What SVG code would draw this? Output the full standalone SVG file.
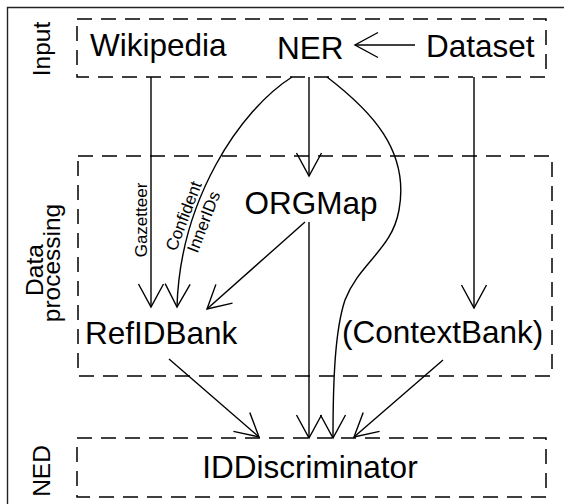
<svg xmlns="http://www.w3.org/2000/svg" width="564" height="504" viewBox="0 0 564 504">
<style>
text{font-family:"Liberation Sans",Arial,sans-serif;fill:#000}
.big{font-size:31.5px}
.sec{font-size:24.5px}
.lab{font-size:17px}
.box{fill:none;stroke:#000;stroke-width:1.5;stroke-dasharray:15 9}
.c{fill:none;stroke:#000;stroke-width:1.4}
</style>
<defs>
<marker id="v" markerUnits="userSpaceOnUse" markerWidth="40" markerHeight="40" viewBox="-30 -20 40 40" refX="0" refY="0" orient="auto">
<path d="M-23,-12.5 L0,0 L-23,12.5" fill="none" stroke="#000" stroke-width="1.4"/>
</marker>
</defs>
<rect x="0" y="0" width="564" height="504" fill="#fff"/>
<path d="M7.5,504 V7.5 H564" fill="none" stroke="#222" stroke-width="1.4"/>
<g id="sections">
<rect id="input-box" class="box" x="77" y="19" width="469" height="58"/>
<rect id="dp-box" class="box" x="78" y="156" width="474" height="220"/>
<rect id="ned-box" class="box" x="77" y="438" width="469" height="59"/>
<text class="sec" transform="translate(50,49) rotate(-90)" text-anchor="middle">Input</text>
<text class="sec" transform="translate(43,270) rotate(-90)" text-anchor="middle">Data</text>
<text class="sec" transform="translate(60,263) rotate(-90)" text-anchor="middle">processing</text>
<text class="sec" transform="translate(50,471) rotate(-90)" text-anchor="middle">NED</text>
</g>
<g id="connectors">
<path class="c" d="M415,45 H355" stroke-width="1" marker-end="url(#v)"/>
<path class="c" d="M151,77 V307" marker-end="url(#v)"/>
<path class="c" d="M292,77 C240,110 180,200 177,307" marker-end="url(#v)"/>
<path class="c" d="M309,77 V176" marker-end="url(#v)"/>
<path class="c" d="M305,222 L207,309" marker-end="url(#v)"/>
<path class="c" d="M309,222 V438" marker-end="url(#v)"/>
<path class="c" d="M327,77 C370,110 410,150 399,210 C392,250 360,262 345,300 C335,330 333,380 333,438" marker-end="url(#v)"/>
<path class="c" d="M474,77 V308" marker-end="url(#v)"/>
<path class="c" d="M169,359 L259,437" marker-end="url(#v)"/>
<path class="c" d="M443,360 L354,437" marker-end="url(#v)"/>
<text class="lab" transform="translate(147,220) rotate(-90)" text-anchor="middle">Gazetteer</text>
<text class="lab" transform="translate(189,218) rotate(-69)" text-anchor="middle">Confident</text>
<text class="lab" transform="translate(209,224) rotate(-69)" text-anchor="middle">InnerIDs</text>
</g>
<g id="wikipedia"><text class="big" x="90" y="56">Wikipedia</text></g>
<g id="ner"><text class="big" x="277" y="59">NER</text></g>
<g id="dataset"><text class="big" x="426" y="57">Dataset</text></g>
<g id="orgmap"><text class="big" x="311" y="214" text-anchor="middle">ORGMap</text></g>
<g id="refidbank"><text class="big" x="85" y="344">RefIDBank</text></g>
<g id="contextbank"><text class="big" x="342" y="343">(ContextBank)</text></g>
<g id="iddiscriminator"><text class="big" x="310" y="478" text-anchor="middle">IDDiscriminator</text></g>
</svg>
